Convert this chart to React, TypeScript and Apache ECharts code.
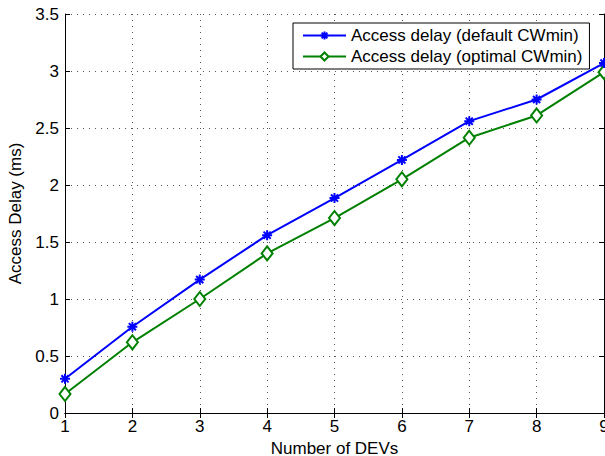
import React, { useEffect, useRef } from "react";
import * as echarts from "echarts";

const devCounts = [1, 2, 3, 4, 5, 6, 7, 8, 9];
const delayDefault = [0.30, 0.757, 1.17, 1.56, 1.885, 2.22, 2.56, 2.75, 3.07];
const delayOptimal = [0.167, 0.62, 1.0, 1.40, 1.71, 2.05, 2.415, 2.61, 2.99];
const seriesNames = ["Access delay (default CWmin)", "Access delay (optimal CWmin)"];

const FONT = "'Liberation Sans', Arial, Helvetica, sans-serif";
const asterisk = "path://M0,-10L0,10M-10,0L10,0M-7.1,-7.1L7.1,7.1M-7.1,7.1L7.1,-7.1";

export default function App() {
  const ref = useRef<HTMLDivElement>(null);
  useEffect(() => {
    if (!ref.current) return;
    document.body.style.margin = "0";
    document.body.style.overflow = "hidden";
    const chart = echarts.init(ref.current, undefined, { renderer: "svg", width: 605, height: 456 });
    const axisLine = { show: true, lineStyle: { color: "#000", width: 1 } };
    const tick = { show: true, inside: true, length: 5, lineStyle: { color: "#000", width: 1 } };
    const split = { show: true, lineStyle: { color: "#555", width: 1, type: [1, 5] as any } };
    const label = { color: "#000", fontSize: 17, fontFamily: FONT };
    chart.setOption({
      animation: false,
      backgroundColor: "#fff",
      grid: { left: 65, top: 14, right: 1, bottom: 43, containLabel: false, outerBoundsMode: "none" },
      legend: {
        orient: "vertical",
        left: 293,
        top: 23,
        backgroundColor: "#fff",
        borderColor: "#000",
        borderWidth: 1,
        borderRadius: 0,
        padding: [4, 7, 4, 9],
        itemGap: 4,
        itemWidth: 43,
        itemHeight: 10,
        textStyle: { color: "#000", fontSize: 17, fontFamily: FONT },
        data: seriesNames,
      },
      xAxis: [
        {
          type: "value",
          min: 1,
          max: 9,
          interval: 1,
          name: "Number of DEVs",
          nameLocation: "middle",
          nameGap: 23,
          nameTextStyle: label,
          axisLine,
          axisTick: tick,
          axisLabel: { ...label, margin: 5, hideOverlap: false },
          splitLine: split,
        },
        {
          type: "value",
          position: "top",
          min: 1,
          max: 9,
          interval: 1,
          axisLine,
          axisTick: tick,
          axisLabel: { show: false },
          splitLine: { show: false },
        },
      ],
      yAxis: [
        {
          type: "value",
          min: 0,
          max: 3.5,
          interval: 0.5,
          name: "Access Delay (ms)",
          nameLocation: "middle",
          nameGap: 37,
          nameTextStyle: label,
          axisLine,
          axisTick: tick,
          axisLabel: { ...label, margin: 6 },
          splitLine: split,
        },
        {
          type: "value",
          position: "right",
          min: 0,
          max: 3.5,
          interval: 0.5,
          axisLine,
          axisTick: tick,
          axisLabel: { show: false },
          splitLine: { show: false },
        },
      ],
      series: [
        {
          name: seriesNames[0],
          type: "line",
          data: devCounts.map((x, i) => [x, delayDefault[i]]),
          symbol: asterisk,
          symbolSize: 10,
          showAllSymbol: true,
          clip: false,
          lineStyle: { color: "#0000ff", width: 2 },
          itemStyle: { color: "#0000ff", borderColor: "#0000ff", borderWidth: 2 },
          z: 3,
        },
        {
          name: seriesNames[1],
          type: "line",
          data: devCounts.map((x, i) => [x, delayOptimal[i]]),
          symbol: "diamond",
          symbolSize: [11, 14],
          showAllSymbol: true,
          clip: false,
          lineStyle: { color: "#008000", width: 2 },
          itemStyle: { color: "#fff", borderColor: "#008000", borderWidth: 2 },
          z: 2,
        },
      ],
    });
    return () => chart.dispose();
  }, []);
  return <div ref={ref} style={{ width: 605, height: 456, overflow: "hidden" }} />;
}
